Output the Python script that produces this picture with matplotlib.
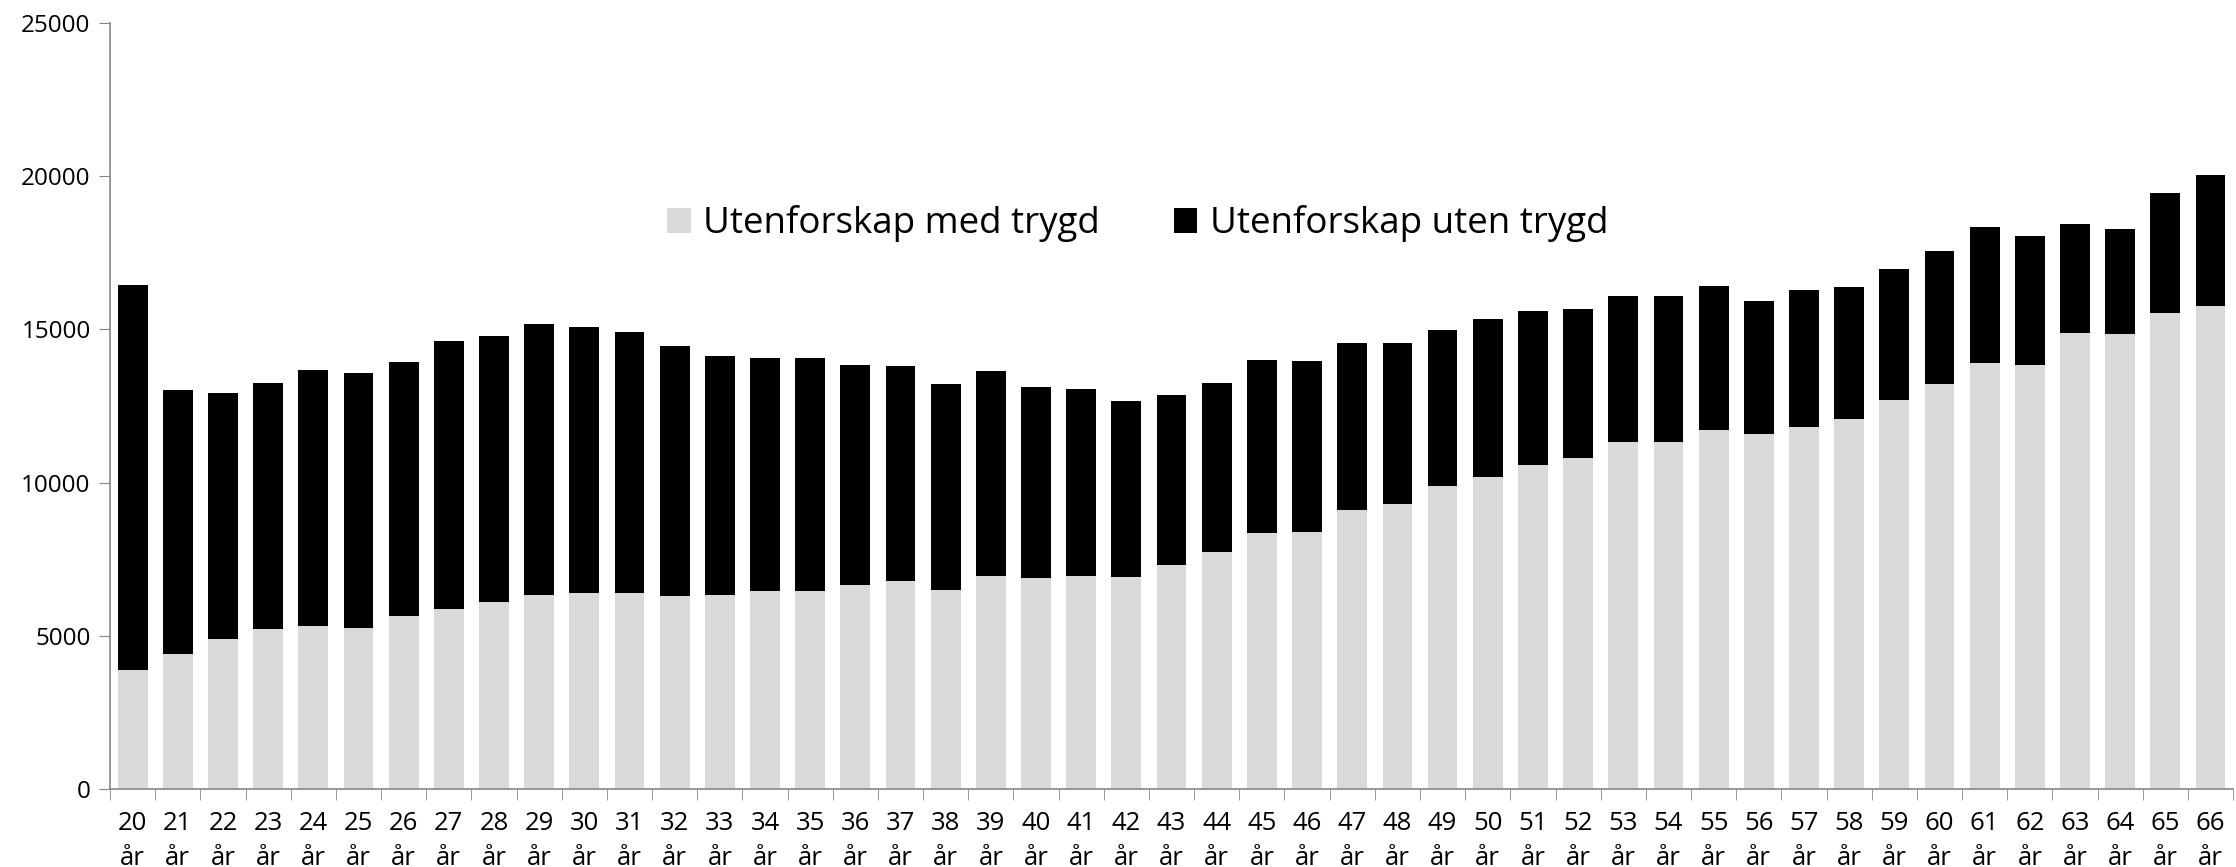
import numpy as np
import matplotlib
matplotlib.use("Agg")
import matplotlib.pyplot as plt
from matplotlib.ticker import FixedLocator

plt.rcParams["font.family"] = ["Open Sans", "DejaVu Sans"]

# aldre 20-66 år
alder = list(range(20, 67))

# utenforskap med trygd (grå, nederst)
med_trygd = [3880, 4390, 4910, 5220, 5330, 5240, 5650, 5890, 6090, 6320,
             6410, 6380, 6300, 6320, 6450, 6450, 6650, 6790, 6500, 6940,
             6900, 6940, 6920, 7300, 7750, 8360, 8400, 9090, 9300, 9900,
             10190, 10570, 10800, 11340, 11330, 11700, 11600, 11830, 12080, 12700,
             13220, 13910, 13840, 14880, 14850, 15520, 15750]

# totalt utenforskap (toppen av søylen)
totalt = [16460, 13020, 12920, 13240, 13660, 13570, 13930, 14610, 14780, 15160,
          15080, 14920, 14450, 14140, 14070, 14070, 13840, 13820, 13220, 13640,
          13130, 13060, 12660, 12860, 13240, 14000, 13960, 14540, 14560, 14990,
          15350, 15610, 15680, 16080, 16080, 16420, 15910, 16280, 16370, 16980,
          17560, 18340, 18050, 18430, 18260, 19460, 20050]

uten_trygd = [t - m for t, m in zip(totalt, med_trygd)]
etiketter = [f"{a}\når" for a in alder]

fig = plt.figure(figsize=(22.36, 8.67), dpi=100)
ax = fig.add_axes([0.0492, 0.09, 0.9495, 0.8835])

x = np.arange(len(alder))
ax.bar(x, med_trygd, width=0.66, color="#d9d9d9", label="Utenforskap med trygd")
ax.bar(x, uten_trygd, width=0.66, bottom=med_trygd, color="#000000",
       label="Utenforskap uten trygd")

ax.set_xlim(-0.5, len(alder) - 0.5)
ax.set_ylim(0, 25000)
ax.set_yticks(range(0, 25001, 5000))

ax.set_xticks(x)
ax.set_xticklabels(etiketter, fontsize=18.5, linespacing=1.5)
ax.xaxis.set_minor_locator(FixedLocator(np.arange(-0.5, len(alder), 1.0)))
ax.tick_params(axis="x", which="major", length=0, pad=16)
ax.tick_params(axis="x", which="minor", length=8, color="#868686", direction="out")
ax.tick_params(axis="y", length=8, color="#868686", labelsize=17.5, pad=6)

for s in ["top", "right"]:
    ax.spines[s].set_visible(False)
for s in ["left", "bottom"]:
    ax.spines[s].set_color("#868686")
    ax.spines[s].set_linewidth(1.2)

ax.legend(loc="center", bbox_to_anchor=(0.484, 0.7376), ncol=2, frameon=False,
          prop={"family": "Open Sans", "size": 26.5}, handlelength=0.65,
          handleheight=0.65, handletextpad=0.33, columnspacing=2.0)

fig.savefig("out.png", dpi=100)
